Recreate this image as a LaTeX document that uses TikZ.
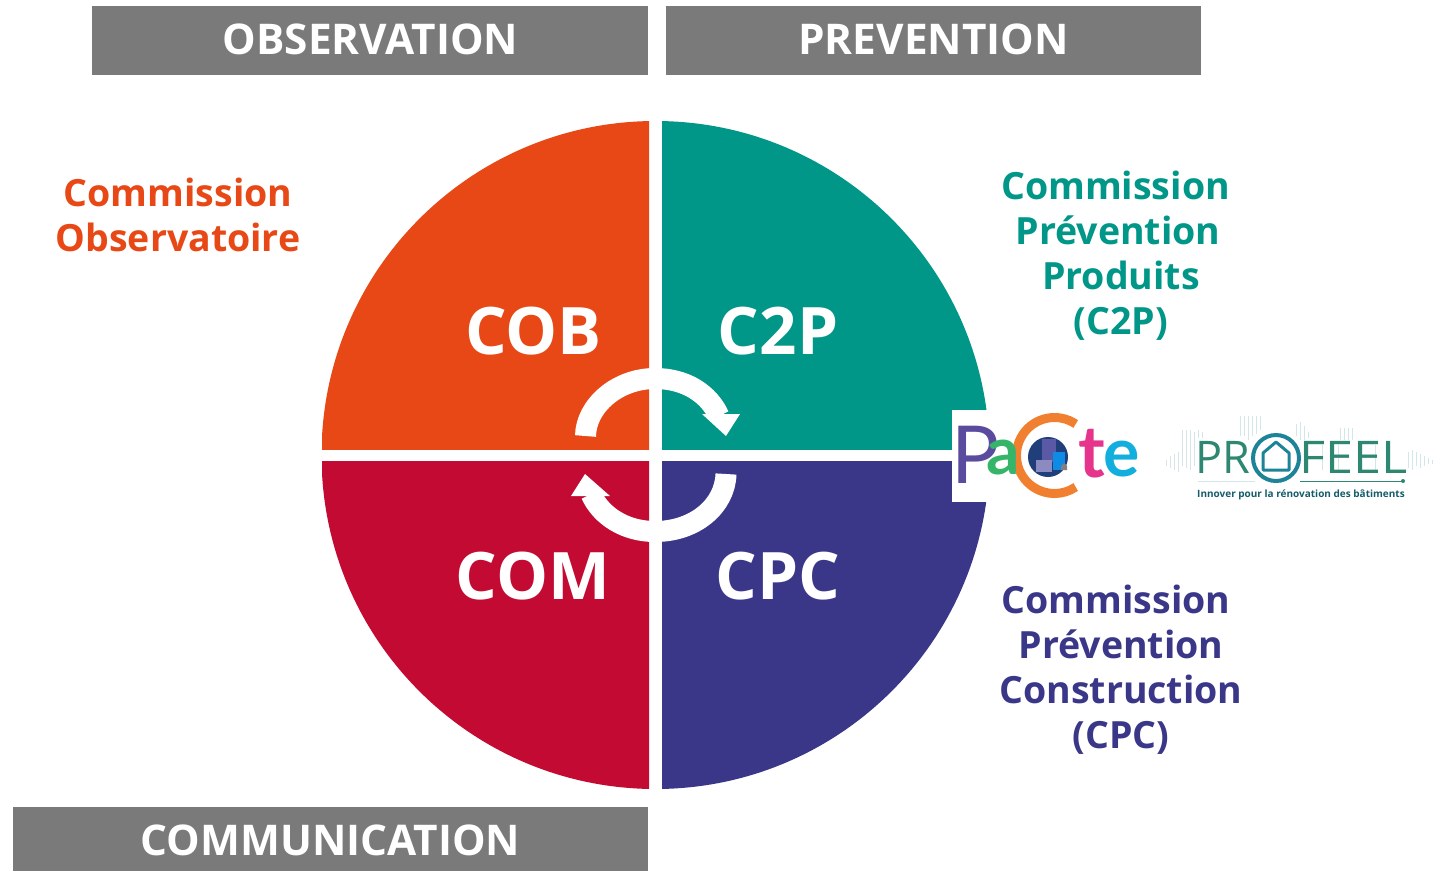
\documentclass[tikz,border=0pt]{standalone}
\usepackage{fontspec}
\setmainfont{Open Sans}
\newfontfamily\latofont{Lato}
\definecolor{cob}{HTML}{E84815}
\definecolor{ctp}{HTML}{009688}
\definecolor{com}{HTML}{C30A32}
\definecolor{cpc}{HTML}{3A3789}
\definecolor{band}{HTML}{7A7A7A}
\definecolor{pfgreen}{HTML}{2E8770}
\definecolor{pfblue}{HTML}{1D8398}
\definecolor{pfbar}{HTML}{D5E6E9}
\definecolor{lgp}{HTML}{5B4B9E}
\definecolor{lga}{HTML}{35B56A}
\definecolor{lgc}{HTML}{F08030}
\definecolor{lgo}{HTML}{1F3E7A}
\definecolor{lgt}{HTML}{E6348C}
\definecolor{lge}{HTML}{12AEDD}
\newcommand{\fsz}[1]{\fontsize{#1}{#1}\selectfont}
\tikzset{
  x=1pt,y=-1pt,
  bandbox/.style={fill=band,draw=none,text=white,font=\fsz{42.3}\bfseries,inner sep=0pt,anchor=center},
  quad/.style={text=white,font=\fsz{65.5}\bfseries,inner sep=0pt},
  lab/.style={font=\fontsize{37.5}{45}\selectfont\bfseries,align=center,inner sep=0pt},
  cyc/.style={white,line width=21pt},
  cychead/.style={fill=white,draw=none},
  bars/.style={pfbar,line width=0.9pt},
  logoletter/.style={inner sep=0pt,anchor=center},
}
\begin{document}
\begin{tikzpicture}
\useasboundingbox (0,0) rectangle (1445,871);
% header bands
\fill[band] (92,6) rectangle (648,75);
\fill[band] (666,6) rectangle (1201,75);
\fill[band] (13,807) rectangle (648,871);
\node[bandbox] (obs) at (370.5,39) {OBSERVATION};
\node[bandbox] (pre) at (933.5,39) {PREVENTION};
\node[bandbox] (cmn) at (330.5,840) {COMMUNICATION};
% quadrants
\begin{scope}
\clip (322,121) rectangle (649,449);
\fill[cob] (655.5,455) circle[radius=334];
\end{scope}
\begin{scope}
\clip (662,121) rectangle (989,449);
\fill[ctp] (655.5,455) circle[radius=334];
\end{scope}
\begin{scope}
\clip (322,461) rectangle (649,790);
\fill[com] (655.5,455) circle[radius=334];
\end{scope}
\begin{scope}
\clip (662,461) rectangle (989,790);
\fill[cpc] (655.5,455) circle[radius=334];
\end{scope}
\node[quad] (qcob) at (533.5,331) {COB};
\node[quad] (qc2p) at (778,331) {C2P};
\node[quad] (qcom) at (533,576) {COM};
\node[quad] (qcpc) at (778,576) {CPC};
% cycle arrows
\draw[cyc] (585.5,436) .. controls (586,406) and (617,378.5) .. (655,378.5) .. controls (686,378.5) and (709,394) .. (719,416);
\fill[cychead] (702,414) -- (740,414) -- (726,436) -- cycle;
\draw[cyc] (726,474) .. controls (725,506) and (695,531.5) .. (655,531.5) .. controls (625,531.5) and (601,516) .. (591,494);
\fill[cychead] (571,496) -- (610,496) -- (585,474) -- cycle;
% side labels
\node[lab,text=cob] (lcob) at (178,215) {Commission\\Observatoire};
\node[lab,text=ctp] (lc2p) at (1118,256) {\hspace*{-4pt}Commission\hspace*{1pt}\\Prévention\hspace*{6pt}\\\hspace*{6pt}Produits\\\hspace*{6pt}(C2P)};
\node[lab,text=cpc] (lcpc) at (1121,670) {Commission\hspace*{10pt}\\Prévention\\Construction\\(CPC)};
% PaCte logo
\fill[white] (952,410) rectangle (1000,502);
\node[logoletter,text=lgp,font=\latofont\fsz{80}] (lp) at (976,455) {P};
\draw[lgc,line width=9pt] (1075.7,424) arc[start angle=-56,end angle=-304,radius=38];
\node[logoletter,text=lga,font=\latofont\bfseries\fsz{66}] (la) at (1003,458) {a};
\fill[lgo] (1048,457) circle[radius=20];
\fill[blue!30!gray] (1042,439) rectangle (1056,462);
\fill[lge!80!blue] (1053,452) rectangle (1065,470);
\fill[blue!30!gray!70] (1036,460) rectangle (1052,472);
\fill[gray] (1061,470) -- (1061,466) -- (1064,463) -- (1067,466) -- (1067,470) -- cycle;
\node[logoletter,text=lgt,font=\latofont\bfseries\fsz{72}] (lt) at (1092,454) {t};
\node[logoletter,text=lge,font=\latofont\bfseries\fsz{68}] (le) at (1122,459) {e};
% Profeel logo
\foreach \x/\t/\b in {1166/460/466,1170/456/468,1174/454/470,1178/452/472,1182/430/466,1186/430/468,1190/430/470,1194/432/466,1198/430/438,1202/432/438,
 1240/416/436,1244/416/436,1248/416/440,1252/416/436,1256/416/434,1260/416/430,
 1296/424/436,1300/422/440,1304/426/440,1308/432/438,1340/428/440,1344/428/440,1348/428/440,1352/428/440,
 1322/445/470,1338/445/470,1360/445/470,1375/445/470,
 1408/452/468,1412/450/470,1416/452/466,1420/454/468,1424/456/466,1428/458/464,1432/460/464}
  \draw[bars] (\x,\t) -- (\x,\b);
\node[logoletter,text=pfgreen,font=\fsz{45}] (pr) at (1223,457) {PR};
\draw[pfblue,line width=4pt] (1276,458) circle[radius=23];
\draw[pfblue,line width=3pt,line join=round,fill=white] (1263,470) -- (1263,453) -- (1276,442) -- (1289,453) -- (1289,470) -- cycle;
\node[logoletter,text=pfgreen,font=\fsz{45},xscale=1.12] (feel) at (1354,457) {FEEL};
\draw[pfbar,line width=1pt] (1198,481) -- (1255,481);
\draw[pfgreen,line width=1pt] (1300,481) -- (1403,481);
\fill[pfgreen] (1403,481) circle[radius=2];
\node[logoletter,text=pfblue!70!black,font=\fsz{10}\bfseries] (tag) at (1301,495) {Innover pour la rénovation des bâtiments};
\end{tikzpicture}
\end{document}
